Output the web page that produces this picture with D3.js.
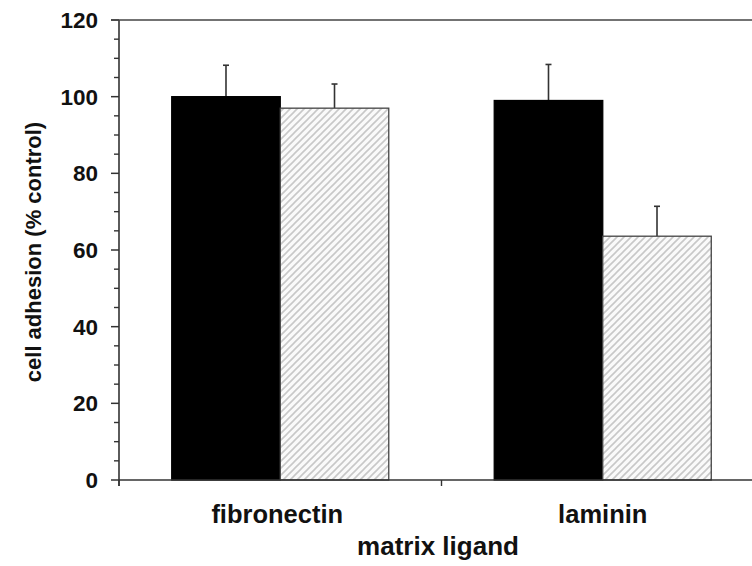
<!DOCTYPE html>
<html>
<head>
<meta charset="utf-8">
<script src="https://cdn.jsdelivr.net/npm/d3@7"></script>
<style>
  body { margin: 0; background: #fff; }
  svg { display: block; }
  text { font-family: "Liberation Sans", Arial, Helvetica, sans-serif; font-weight: bold; fill: #111; }
</style>
</head>
<body>
<svg id="chart" width="752" height="566"></svg>
<script>
const categories = ["fibronectin", "laminin"];
const series = ["control", "treated"];
const means = {
  control: [100, 99.0],
  treated: [97.0, 63.6]
};
const errors = {
  control: [8.2, 9.4],
  treated: [6.3, 7.8]
};
const yTicks = [0, 20, 40, 60, 80, 100, 120];
const yMinorTicks = d3.range(0, 121, 5);
const xTitle = "matrix ligand";
const yTitle = "cell adhesion (% control)";

const W = 752, H = 566;
const m = { left: 119, top: 20, bottom: 86 };
const plotRight = 764; // axis extends past the right edge of the picture
const svg = d3.select("#chart");

const defs = svg.append("defs");
const pat = defs.append("pattern")
  .attr("id", "hatch").attr("patternUnits", "userSpaceOnUse")
  .attr("width", 7).attr("height", 7);
pat.append("rect").attr("width", 7).attr("height", 7).attr("fill", "#fafafa");
pat.append("path")
  .attr("d", "M-1,1 L1,-1 M0,7 L7,0 M6,8 L8,6")
  .attr("stroke", "#c8c8c8").attr("stroke-width", 1.6);

const y = d3.scaleLinear().domain([0, 120]).range([H - m.bottom, m.top]);
const x0 = d3.scaleBand().domain(categories).range([m.left, plotRight]).paddingInner(0).paddingOuter(0);
const x1 = d3.scaleBand().domain(series).range([0, x0.bandwidth()]).paddingInner(0).paddingOuter(0.486);

const rows = [];
categories.forEach((c, i) => series.forEach(s => rows.push({ c, s, v: means[s][i], e: errors[s][i] })));

// error bars (drawn first so the bar top covers the stem base)
const eb = svg.append("g").attr("stroke", "#333").attr("stroke-width", 1.6);
rows.forEach(d => {
  const cx = x0(d.c) + x1(d.s) + x1.bandwidth() / 2;
  eb.append("line").attr("x1", cx).attr("x2", cx).attr("y1", y(d.v)).attr("y2", y(d.v + d.e));
  eb.append("line").attr("x1", cx - 3).attr("x2", cx + 3).attr("y1", y(d.v + d.e)).attr("y2", y(d.v + d.e));
});

// bars
svg.append("g").selectAll("rect").data(rows).join("rect")
  .attr("x", d => x0(d.c) + x1(d.s))
  .attr("width", x1.bandwidth())
  .attr("y", d => y(d.v))
  .attr("height", d => y(0) - y(d.v))
  .attr("fill", d => d.s === "control" ? "#000" : "url(#hatch)")
  .attr("stroke", d => d.s === "control" ? "#000" : "#444")
  .attr("stroke-width", 1.3);

// y axis
const yAxis = svg.append("g").attr("transform", `translate(${m.left},0)`);
yAxis.append("line").attr("x1", 0).attr("x2", 0).attr("y1", y(120)).attr("y2", y(0) + 6)
  .attr("stroke", "#333").attr("stroke-width", 1.6);
yAxis.selectAll("line.minor").data(yMinorTicks.filter(t => !yTicks.includes(t))).join("line")
  .attr("class", "minor").attr("x1", -5).attr("x2", 0)
  .attr("y1", d => y(d)).attr("y2", d => y(d)).attr("stroke", "#333").attr("stroke-width", 1.4);
yAxis.selectAll("line.major").data(yTicks).join("line")
  .attr("class", "major").attr("x1", -8).attr("x2", 0)
  .attr("y1", d => y(d)).attr("y2", d => y(d)).attr("stroke", "#333").attr("stroke-width", 1.5);
yAxis.selectAll("text").data(yTicks).join("text")
  .attr("x", -21).attr("y", d => y(d)).attr("dy", "0.36em")
  .attr("text-anchor", "end").attr("font-size", 22.5).text(d => d);

// top frame line
svg.append("line").attr("x1", m.left - 8).attr("x2", W).attr("y1", y(120)).attr("y2", y(120))
  .attr("stroke", "#444").attr("stroke-width", 1.6);

// x axis
const xAxis = svg.append("g").attr("transform", `translate(0,${y(0)})`);
xAxis.append("line").attr("x1", m.left).attr("x2", W).attr("y1", 0).attr("y2", 0)
  .attr("stroke", "#333").attr("stroke-width", 1.6);
const bounds = [x0.range()[0]].concat(categories.map(c => x0(c) + x0.bandwidth()));
xAxis.selectAll("line.tick").data(bounds).join("line")
  .attr("class", "tick").attr("x1", d => d).attr("x2", d => d).attr("y1", 0).attr("y2", 6)
  .attr("stroke", "#333").attr("stroke-width", 1.4);
xAxis.selectAll("text").data(categories).join("text")
  .attr("x", d => x0(d) + x0.bandwidth() / 2 - (d === "fibronectin" ? 3 : 0))
  .attr("y", 43).attr("text-anchor", "middle").attr("font-size", 25.5).text(d => d);

svg.append("text").attr("x", 438).attr("y", 555).attr("text-anchor", "middle")
  .attr("font-size", 26).text(xTitle);
svg.append("text").attr("transform", `translate(41,${(y(0) + y(120)) / 2 + 2}) rotate(-90)`)
  .attr("text-anchor", "middle").attr("font-size", 22).text(yTitle);
</script>
</body>
</html>
